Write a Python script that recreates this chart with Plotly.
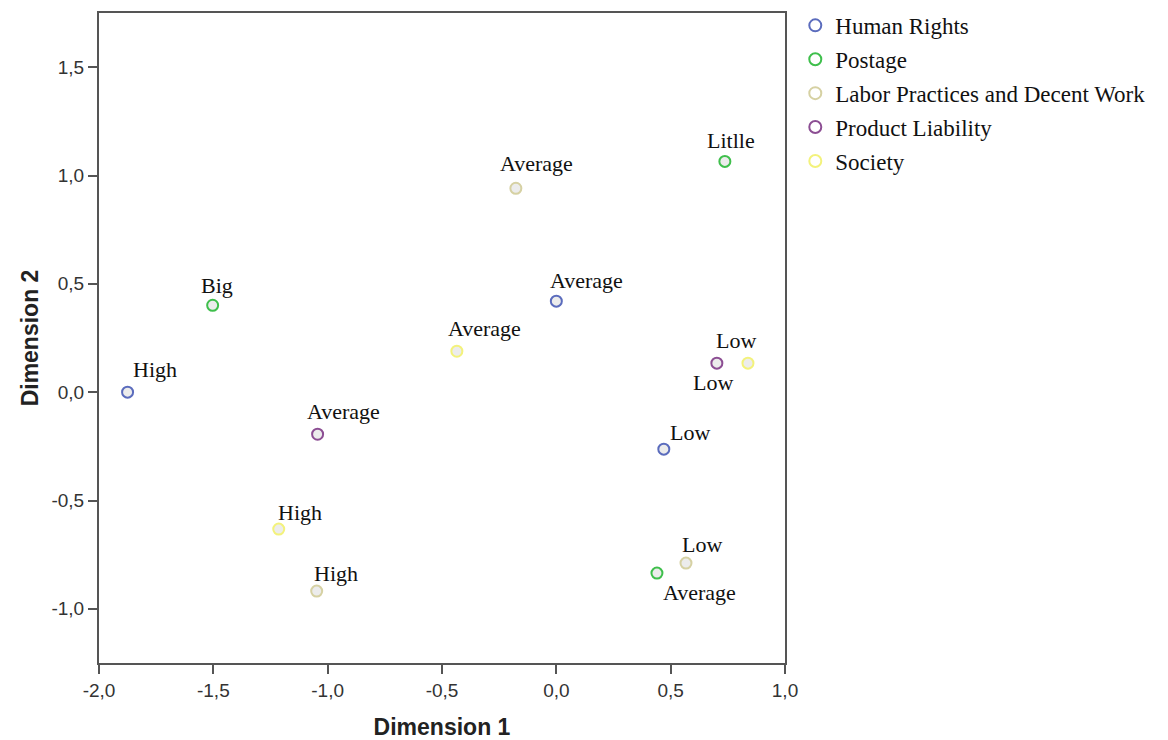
import plotly.graph_objects as go

# ---- data ----
series_names = ["Human Rights", "Postage", "Labor Practices and Decent Work",
                "Product Liability", "Society"]

hr_x = [-1.875, 0.00, 0.47]
hr_y = [0.00, 0.42, -0.263]
hr_labels = ["High", "Average", "Low"]

postage_x = [-1.503, 0.737, 0.44]
postage_y = [0.401, 1.065, -0.835]
postage_labels = ["Big", "Litlle", "Average"]

labor_x = [-0.177, -1.048, 0.567]
labor_y = [0.941, -0.918, -0.789]
labor_labels = ["Average", "High", "Low"]

pl_x = [-1.044, 0.702]
pl_y = [-0.194, 0.134]
pl_labels = ["Average", "Low"]

soc_x = [-1.214, -0.435, 0.838]
soc_y = [-0.632, 0.189, 0.134]
soc_labels = ["High", "Average", "Low"]

x_ticks = [-2.0, -1.5, -1.0, -0.5, 0.0, 0.5, 1.0]
x_tick_labels = ["-2,0", "-1,5", "-1,0", "-0,5", "0,0", "0,5", "1,0"]
y_ticks = [-1.0, -0.5, 0.0, 0.5, 1.0, 1.5]
y_tick_labels = ["-1,0", "-0,5", "0,0", "0,5", "1,0", "1,5"]

# ---- styling (kept apart from data) ----
colors = ["#5b6cbd", "#3fbf4c", "#d6d1a3", "#8c4e93", "#f3f27c"]
# label pixel offsets (dx, dy) per point
hr_off = [(27, 23), (30, 21), (26, 17)]
postage_off = [(4, 20), (6, 21), (43, -19)]
labor_off = [(21, 25), (19, 18), (16, 19)]
pl_off = [(26, 23), (-4, -19)]
soc_off = [(21, 17), (28, 23), (-12, 23)]

series = [
    (hr_x, hr_y, hr_labels, hr_off),
    (postage_x, postage_y, postage_labels, postage_off),
    (labor_x, labor_y, labor_labels, labor_off),
    (pl_x, pl_y, pl_labels, pl_off),
    (soc_x, soc_y, soc_labels, soc_off),
]

fig = go.Figure()
annotations = []
for i, (name, (xs, ys, labs, offs)) in enumerate(zip(series_names, series)):
    fig.add_trace(go.Scatter(
        x=xs, y=ys, mode="markers", name=name, showlegend=False,
        marker=dict(symbol="circle", size=11, color="#ececec",
                    line=dict(color=colors[i], width=2)),
        hoverinfo="x+y+name"))
    fig.add_trace(go.Scatter(
        x=[None], y=[None], mode="markers", name=name, legendgroup=name,
        marker=dict(symbol="circle", size=14, color="white",
                    line=dict(color=colors[i], width=2))))
    for x, y, t, (dx, dy) in zip(xs, ys, labs, offs):
        annotations.append(dict(
            x=x, y=y, xref="x", yref="y", text=t, showarrow=False,
            xshift=dx, yshift=dy,
            font=dict(family="Liberation Serif", size=22, color="#111111")))

axis_common = dict(
    showline=True, linecolor="#555555", linewidth=2, mirror=True,
    ticks="outside", ticklen=9, tickwidth=2, tickcolor="#555555",
    showgrid=False, zeroline=False, automargin=False,
    tickfont=dict(family="Liberation Sans", size=19, color="#333333"),
)

fig.update_layout(
    width=1160, height=732,
    paper_bgcolor="white", plot_bgcolor="white",
    margin=dict(l=91, r=383, t=5, b=77, autoexpand=False),
    xaxis=dict(range=[-2.0, 1.0], tickvals=x_ticks, ticktext=x_tick_labels,
               title=dict(text="Dimension 1", standoff=26,
                          font=dict(family="Liberation Sans", size=23, color="#222222",
                                    weight="bold")),
               **axis_common),
    yaxis=dict(range=[-1.25, 1.75], tickvals=y_ticks, ticktext=y_tick_labels,
               title=dict(text="Dimension 2", standoff=6,
                          font=dict(family="Liberation Sans", size=23, color="#222222",
                                    weight="bold")),
               **axis_common),
    legend=dict(x=1.015, y=1.014, xanchor="left", yanchor="top",
                font=dict(family="Liberation Serif", size=23, color="#111111"),
                tracegroupgap=1, itemsizing="constant",
                bgcolor="rgba(0,0,0,0)"),
    annotations=annotations,
    showlegend=True,
)

fig.write_html("out.html")
